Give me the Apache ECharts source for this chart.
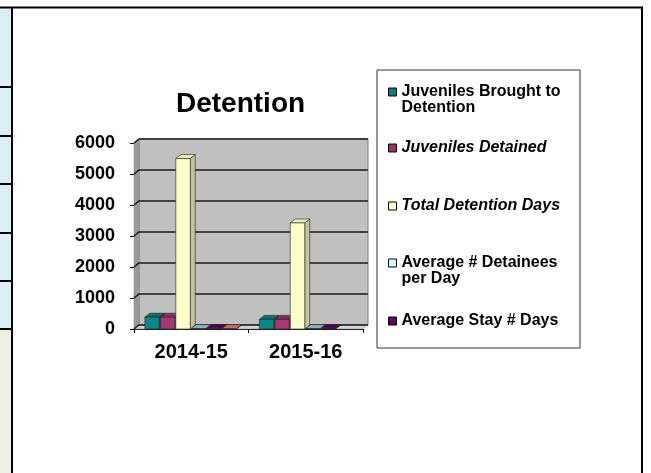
<!DOCTYPE html>
<html>
<head>
<meta charset="utf-8">
<script src="https://cdn.jsdelivr.net/npm/echarts@6/dist/echarts.min.js"></script>
<style>
html,body{margin:0;padding:0;background:#fff;}
#c{width:651px;height:473px;}
</style>
</head>
<body>
<div id="c"></div>
<script>
// ---- data ----
var categories = ['2014-15', '2015-16'];
var seriesNames = ['Juveniles Brought to Detention', 'Juveniles Detained', 'Total Detention Days', 'Average # Detainees per Day', 'Average Stay # Days', ''];
var broughtToDetention = [380, 310];
var juvenilesDetained = [380, 310];
var totalDetentionDays = [5500, 3420];
var avgDetaineesPerDay = [15, 14];
var avgStayDays = [14, 12];
var extraSeries = [13, null];
var yTicks = [0, 1000, 2000, 3000, 4000, 5000, 6000];
var legendLabels = ['\nJuveniles Brought to\nDetention', 'Juveniles Detained', 'Total Detention Days', '\nAverage # Detainees\nper Day', 'Average Stay # Days'];

// ---- styles ----
var FONT = '"Liberation Sans", Arial, sans-serif';
var faceColors = [
  {front: '#0f8686', top: '#0a6e6e', side: '#065656', legend: '#008080'},
  {front: '#a53a72', top: '#862c5c', side: '#6e2249', legend: '#993366'},
  {front: '#ffffcc', top: '#ececbe', side: '#c4c49c', legend: '#ffffcc'},
  {front: '#9cc4c4', top: '#8ab4b4', side: '#709c9c', legend: '#ccffff'},
  {front: '#660066', top: '#550055', side: '#440044', legend: '#660066'},
  {front: '#d9756a', top: '#c86a60', side: '#a85850', legend: '#ff8080'}
];
var allValues = [broughtToDetention, juvenilesDetained, totalDetentionDays, avgDetaineesPerDay, avgStayDays, extraSeries];
var WDX = 5, WDY = 4;   // wall depth
var BDX = 5, BDY = 4;   // bar depth
var NB = 6;

function wallRender(params, api) {
  var cs = params.coordSys;
  var gx = cs.x, gy = cs.y, gw = cs.width, gh = cs.height;
  var children = [];
  children.push({type: 'rect', shape: {x: gx + WDX, y: gy - WDY, width: gw, height: gh},
    style: {fill: '#c0c0c0', stroke: '#808080', lineWidth: 1}});
  children.push({type: 'polygon', shape: {points: [[gx, gy], [gx + WDX, gy - WDY], [gx + WDX, gy + gh - WDY], [gx, gy + gh]]},
    style: {fill: '#9a9a9a', stroke: '#808080', lineWidth: 0.5}});
  children.push({type: 'polygon', shape: {points: [[gx, gy + gh], [gx + WDX, gy + gh - WDY], [gx + gw + WDX, gy + gh - WDY], [gx + gw, gy + gh]]},
    style: {fill: '#d4d4d4', stroke: '#909090', lineWidth: 0.5}});
  yTicks.forEach(function (t) {
    var y = api.coord([0, t])[1];
    children.push({type: 'polyline', shape: {points: [[gx, y], [gx + WDX, y - WDY], [gx + gw + WDX, y - WDY]]},
      style: {stroke: '#1a1a1a', lineWidth: 1.5, fill: null}});
  });
  return {type: 'group', children: children};
}

function makeBarRender(si) {
  return function (params, api) {
    var v = api.value(1);
    if (v == null || isNaN(v)) return null;
    var cat = api.value(0);
    var p = api.coord([cat, v]);
    var p0 = api.coord([cat, 0]);
    var band = api.size([1, 0])[0];
    var bw = band * 0.81 / NB;
    var left = p[0] - (NB / 2) * bw + si * bw;
    var w = bw - 1;
    var yt = p[1], yb = p0[1];
    var c = faceColors[si];
    var st = {stroke: '#222', lineWidth: 0.6};
    return {type: 'group', children: [
      {type: 'polygon', shape: {points: [[left + w, yt], [left + w + BDX, yt - BDY], [left + w + BDX, yb - BDY], [left + w, yb]]},
        style: Object.assign({fill: c.side}, st)},
      {type: 'polygon', shape: {points: [[left, yt], [left + BDX, yt - BDY], [left + w + BDX, yt - BDY], [left + w, yt]]},
        style: Object.assign({fill: c.top}, st)},
      {type: 'rect', shape: {x: left, y: yt, width: w, height: Math.max(yb - yt, 0)},
        style: Object.assign({fill: c.front}, st)}
    ]};
  };
}

var series = [{
  type: 'custom', name: '__wall', renderItem: wallRender, data: [[0, 0]], z: 1, silent: true,
  encode: {x: 0, y: 1}
}];
allValues.forEach(function (vals, si) {
  series.push({
    type: 'custom',
    name: seriesNames[si],
    renderItem: makeBarRender(si),
    data: vals.map(function (v, i) { return [i, v]; }),
    encode: {x: 0, y: 1},
    itemStyle: {color: faceColors[si].legend},
    z: 3
  });
});

var legendTops = [68, 140, 198, 239, 313];
var legends = legendLabels.map(function (lab, i) {
  return {
    data: [seriesNames[i]],
    left: 388, top: legendTops[i],
    orient: 'vertical', padding: 0,
    icon: 'rect', itemWidth: 8, itemHeight: 8,
    itemStyle: {borderColor: '#000', borderWidth: 1},
    selectedMode: false,
    formatter: function () { return lab; },
    textStyle: {fontFamily: FONT, fontWeight: 'bold', fontSize: 16, lineHeight: 16,
      fontStyle: (i === 1 || i === 2) ? 'italic' : 'normal', color: '#000'}
  };
});

var stripLines = [87, 136, 184, 233, 281, 329];
var graphics = [
  {type: 'rect', shape: {x: 0, y: 8, width: 11, height: 321}, style: {fill: '#daeef3'}, z: 0},
  {type: 'rect', shape: {x: 0, y: 329, width: 11, height: 144}, style: {fill: '#ebf1de'}, z: 0},
  {type: 'rect', shape: {x: 377, y: 70, width: 203, height: 278}, style: {fill: '#fff', stroke: '#333', lineWidth: 1}, z: 0}
];
stripLines.forEach(function (y) {
  graphics.push({type: 'line', shape: {x1: 0, y1: y, x2: 12, y2: y}, style: {stroke: '#000', lineWidth: 2}, z: 5});
});
graphics.push({type: 'line', shape: {x1: 0, y1: 7.5, x2: 643, y2: 7.5}, style: {stroke: '#000', lineWidth: 2}, z: 5});
graphics.push({type: 'line', shape: {x1: 12, y1: 7, x2: 12, y2: 473}, style: {stroke: '#000', lineWidth: 2}, z: 5});
graphics.push({type: 'line', shape: {x1: 642, y1: 7, x2: 642, y2: 473}, style: {stroke: '#000', lineWidth: 2}, z: 5});

var chart = echarts.init(document.getElementById('c'), null, {renderer: 'canvas'});
chart.setOption({
  backgroundColor: '#fff',
  animation: false,
  title: {text: 'Detention', left: 176, top: 90, padding: 0,
    textStyle: {fontFamily: FONT, fontWeight: 'bold', fontSize: 28, color: '#000'}},
  legend: legends,
  grid: {left: 134, right: 288, top: 143, bottom: 144, containLabel: false},
  xAxis: {
    type: 'category', data: categories,
    axisLine: {lineStyle: {color: '#000', width: 1}},
    axisTick: {show: true, length: 4, lineStyle: {color: '#000'}},
    axisLabel: {fontFamily: FONT, fontWeight: 'bold', fontSize: 20, color: '#000', margin: 13},
    splitLine: {show: false}
  },
  yAxis: {
    type: 'value', min: 0, max: 6000, interval: 1000,
    axisLine: {show: true, lineStyle: {color: '#000', width: 1}},
    axisTick: {show: true, length: 4, lineStyle: {color: '#000'}},
    axisLabel: {fontFamily: FONT, fontWeight: 'bold', fontSize: 18, color: '#000', margin: 19,
      formatter: function (v) { return String(v); }},
    splitLine: {show: false}
  },
  graphic: graphics,
  series: series
});
</script>
</body>
</html>
